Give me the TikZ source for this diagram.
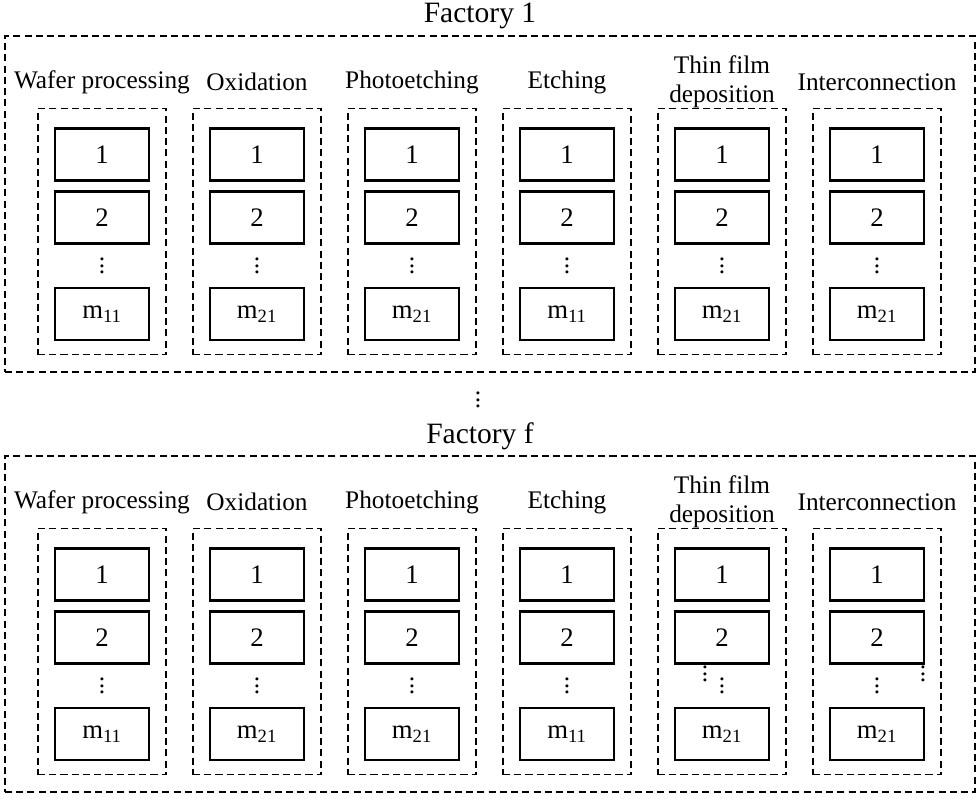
\documentclass[tikz,border=0pt]{standalone}
\usepackage{fontspec}
\setmainfont{Liberation Serif}
\usepackage{tikz}
\usetikzlibrary{positioning}
\newcommand{\colvdots}{\vbox{\baselineskip=4.6pt \lineskiplimit=0pt \hbox{.}\hbox{.}\hbox{.}}}
\tikzset{
  %% stage titles and factory titles
  lbl/.style = {font = \fontsize{18}{21}\selectfont, align = center, inner sep = 1pt},
  ttl/.style = {font = \fontsize{21}{24}\selectfont, inner sep = 1pt},
  %% machine boxes
  mach/.style = {
    rectangle, draw, line width = 1.6pt,
    minimum width = 2.35cm, minimum height = 1.3cm,
    font = \fontsize{19}{21}\selectfont, inner sep = 0pt
  },
  %% dashed group frames
  grpbox/.style = {
    rectangle, draw, line width = 1.35pt, dash pattern = on 5pt off 3pt,
    minimum width = 3.2cm, minimum height = 6.15cm, inner sep = 0pt
  },
  facbox/.style = {
    rectangle, draw, line width = 1.35pt, dash pattern = on 5pt off 3pt,
    minimum width = 24.25cm, minimum height = 8.4cm, inner sep = 0pt
  },
  dotsn/.style = {font = \fontsize{18}{21}\selectfont, inner sep = 0pt},
}

\begin{document}
\begin{tikzpicture}[x = 0.025cm, y = -0.025cm]
  \useasboundingbox (0,0) rectangle (980,798);

  \foreach \f/\fy/\fname in {1/0/1, 2/420/f} {
    \node[ttl] (title\f) at (480,16+\fy) {Factory \fname};
    \node[facbox] (fac\f) at (490,204+\fy) {};

    \foreach \c/\stage/\sub in {1/{Wafer processing}/11, 2/Oxidation/21,
        3/Photoetching/21, 4/Etching/11, 5/{Thin film\\deposition}/21,
        6/Interconnection/21} {
      \pgfmathsetmacro\cx{102+155*(\c-1)}
      \node[grpbox] (g\f\c) at (\cx,231.5+\fy) {};
      \node[lbl] (s\f\c) at (\cx,82+\fy) {\stage};
      \node[mach] (m\f\c-1) at (\cx,154.5+\fy) {1};
      \node[mach, below=0.22cm of m\f\c-1] (m\f\c-2) {2};
      \node[mach, below=1.05cm of m\f\c-2] (m\f\c-m) {m\textsubscript{\sub}};
      \node[dotsn] (d\f\c) at (\cx,266+\fy) {\colvdots};
    }
  }

  %% dots between the factories
  \node[dotsn] (between) at (478,400) {\colvdots};

  %% stray dots in factory f
  \node[dotsn] (extra1) at (705,674) {\colvdots};
  \node[dotsn] (extra2) at (923,674) {\colvdots};

\end{tikzpicture}
\end{document}
